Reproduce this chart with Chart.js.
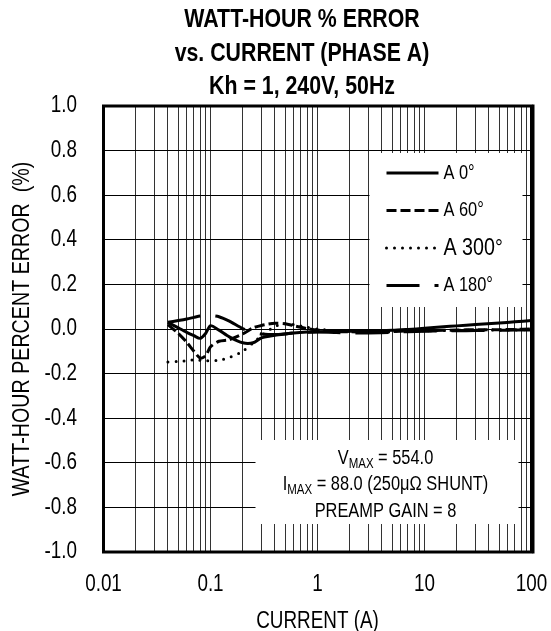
<!DOCTYPE html>
<html>
<head>
<meta charset="utf-8">
<script src="https://cdn.jsdelivr.net/npm/chart.js@4.4.1/dist/chart.umd.min.js"></script>
<style>
	html, body { margin: 0; padding: 0; background: #fff; }
</style>
</head>
<body>
<canvas id="chart" width="551" height="631"></canvas>
<script>
(function () {

	'use strict';

	// currents (A)
	var currents = [0.04, 0.05, 0.06, 0.07, 0.08, 0.09, 0.1, 0.12, 0.15, 0.2, 0.25, 0.3, 0.4, 0.5, 0.6, 0.8,
		1, 1.5, 2, 3, 5, 7, 10, 15, 20, 30, 50, 70, 100];

	// % error per phase angle
	var errA0   = [0.03, 0.005, -0.015, -0.03, -0.042, -0.02, 0.015, -0.005, -0.035, -0.062, -0.062, -0.04, -0.028, -0.022, -0.018, -0.014,
		-0.012, -0.01, -0.01, -0.008, -0.006, -0.002, 0.003, 0.01, 0.014, 0.02, 0.027, 0.032, 0.038];
	var errA60  = [0.02, -0.02, -0.06, -0.1, -0.13, -0.12, -0.08, -0.055, -0.048, -0.022, 0.005, 0.016, 0.026, 0.024, 0.015, 0.002,
		-0.005, -0.012, -0.012, -0.015, -0.012, -0.008, -0.008, -0.006, -0.005, -0.003, -0.003, -0.002, 0.0];
	var errA300 = [-0.148, -0.145, -0.142, -0.138, -0.14, -0.142, -0.142, -0.14, -0.128, -0.1, -0.062, -0.03, 0.012, 0.024, 0.02, 0.008,
		0.0, -0.008, -0.01, -0.012, -0.01, -0.008, -0.008, -0.007, -0.006, -0.005, -0.004, -0.004, -0.003];
	var errA180 = [0.03, 0.038, 0.045, 0.052, 0.058, 0.06, 0.06, 0.055, 0.035, 0.002, -0.015, -0.022, -0.025, -0.022, -0.018, -0.015,
		-0.014, -0.016, -0.018, -0.018, -0.015, -0.012, -0.01, -0.009, -0.008, -0.007, -0.006, -0.005, -0.005];

	var seriesLabels = ['A 0°', 'A 60°', 'A 300°', 'A 180°'];
	var xTickLabels = ['0.01', '0.1', '1', '10', '100'];
	var yTickValues = [-1.0, -0.8, -0.6, -0.4, -0.2, 0.0, 0.2, 0.4, 0.6, 0.8, 1.0];
	var titleLines = ['WATT-HOUR % ERROR', 'vs. CURRENT (PHASE A)', 'Kh = 1, 240V, 50Hz'];
	var xTitle = 'CURRENT (A)';
	var yTitle = 'WATT-HOUR PERCENT ERROR  (%)';
	var noteLines = [
		[['V', 0], ['MAX', 1], [' = 554.0', 0]],
		[['I', 0], ['MAX', 1], [' = 88.0 (250\u03bc\u03a9 SHUNT)', 0]],
		[['PREAMP GAIN = 8', 0]]
	];

	// Arial Narrow look: Liberation Sans squeezed sideways
	var FACE = "'Liberation Sans', Arial, sans-serif";
	var NARROW = 0.82;

	function text(ctx, str, x, y, size, o) {
		o = o || {};
		ctx.save();
		ctx.font = (o.bold ? 'bold ' : '') + size + 'px ' + FACE;
		ctx.fillStyle = '#000';
		ctx.textAlign = o.align || 'center';
		ctx.textBaseline = 'middle';
		ctx.translate(x, y);
		if (o.rotate) ctx.rotate(-Math.PI / 2);
		ctx.scale(NARROW, 1);
		ctx.fillText(str, 0, 0);
		ctx.restore();
	}

	function width(ctx, str, size) {
		ctx.save();
		ctx.font = size + 'px ' + FACE;
		var w = ctx.measureText(str).width * NARROW;
		ctx.restore();
		return w;
	}

	function pairs(ys) {
		return ys.map(function (y, i) { return { x: currents[i], y: y }; });
	}

	var canvas = document.getElementById('chart');

	var panels = {
		id: 'panels',
		beforeDatasetsDraw: function (chart) {
			var ctx = chart.ctx, a = chart.chartArea;
			ctx.save();
			ctx.fillStyle = '#fff';
			ctx.fillRect(a.left + 266, a.top + 47, 153, 154);   // legend panel
			ctx.fillRect(a.left + 152, a.top + 334, 263, 84);   // note panel
			ctx.restore();
		},
		afterDatasetsDraw: function (chart) {
			var ctx = chart.ctx, a = chart.chartArea;
			var xs = chart.scales.x, ys = chart.scales.y;
			ctx.save();

			// frame
			ctx.strokeStyle = '#000';
			ctx.lineWidth = 3;
			ctx.strokeRect(a.left, a.top, a.right - a.left, a.bottom - a.top);
			ctx.lineWidth = 2;
			ctx.beginPath();
			ctx.moveTo(a.right + 2, a.top - 1.5);
			ctx.lineTo(a.right + 2, a.bottom + 1.5);
			ctx.stroke();
			ctx.restore();

			// title
			titleLines.forEach(function (t, i) {
				text(ctx, t, 302, 20 + i * 33.5, 26, { bold: true });
			});

			// ticks
			xTickLabels.forEach(function (t) {
				text(ctx, t, xs.getPixelForValue(parseFloat(t)), a.bottom + 33, 23);
			});
			yTickValues.forEach(function (v) {
				var t = Math.abs(v) < 1e-9 ? '0.0' : v.toFixed(1);
				text(ctx, t, 77, ys.getPixelForValue(v), 23, { align: 'right' });
			});

			// axis titles
			text(ctx, xTitle, (a.left + a.right) / 2, a.bottom + 70, 23);
			text(ctx, yTitle, 22, (a.top + a.bottom) / 2, 24, { rotate: true });

			// legend
			var lx = a.left + 266, ly = a.top + 67;
			chart.data.datasets.forEach(function (ds, i) {
				var y = ly + i * 37.5;
				ctx.save();
				ctx.strokeStyle = '#000';
				ctx.lineWidth = ds.borderWidth;
				ctx.lineCap = ds.borderCapStyle || 'butt';
				ctx.setLineDash(ds.borderDash || []);
				ctx.beginPath();
				ctx.moveTo(lx + 17, y);
				ctx.lineTo(lx + 69, y);
				ctx.stroke();
				ctx.restore();
				text(ctx, ds.label, lx + 74, y, i === 2 ? 24 : 20, { align: 'left' });
			});

			// note
			var cx = a.left + 282, cy = a.top + 352;
			noteLines.forEach(function (parts, i) {
				var sizes = parts.map(function (p) { return p[1] ? 14 : 20; });
				var widths = parts.map(function (p, j) { return width(ctx, p[0], sizes[j]); });
				var total = widths.reduce(function (s, w) { return s + w; }, 0);
				var x = cx - total / 2;
				parts.forEach(function (p, j) {
					text(ctx, p[0], x, cy + i * 26.5 + (p[1] ? 6 : 0), sizes[j], { align: 'left' });
					x += widths[j];
				});
			});
		}
	};

	var chart = new Chart(canvas, {

		type: 'line',
		data: {
			datasets: [{
				label: seriesLabels[0],
				data: pairs(errA0),
				borderColor: '#000',
				borderWidth: 3,
				borderCapStyle: 'butt'
			}, {
				label: seriesLabels[1],
				data: pairs(errA60),
				borderColor: '#000',
				borderWidth: 3,
				borderDash: [10, 4],
				borderCapStyle: 'butt'
			}, {
				label: seriesLabels[2],
				data: pairs(errA300),
				borderColor: '#000',
				borderWidth: 3,
				borderDash: [0, 8],
				borderCapStyle: 'round'
			}, {
				label: seriesLabels[3],
				data: pairs(errA180),
				borderColor: '#000',
				borderWidth: 3,
				borderDash: [33, 15],
				borderCapStyle: 'butt'
			}]
		},
		options: {
			responsive: false,
			animation: false,
			layout: { padding: { left: 0, right: 19.5, top: 106, bottom: 0 } },
			elements: {
				point: { radius: 0 },
				line: { tension: 0.25, fill: false }
			},
			plugins: {
				legend: { display: false },
				tooltip: { enabled: false },
				title: { display: false }
			},
			scales: {
				x: {
					type: 'logarithmic',
					min: 0.01,
					max: 100,
					afterFit: function (scale) {
						scale.height = 79;
						scale.paddingLeft = 0;
						scale.paddingRight = 0;
					},
					afterBuildTicks: function (scale) {
						var t = [];
						for (var e = -2; e <= 2; e++) {
							for (var m = 1; m <= 9; m++) {
								var v = +(m * Math.pow(10, e)).toPrecision(3);
								if (v <= 100) t.push({ value: v });
							}
						}
						scale.ticks = t;
					},
					ticks: { display: false, autoSkip: false },
					grid: { color: '#333', lineWidth: 1, drawTicks: false },
					border: { display: false }
				},
				y: {
					min: yTickValues[0],
					max: yTickValues[yTickValues.length - 1],
					afterFit: function (scale) {
						scale.width = 103.5;
						scale.paddingTop = 0;
						scale.paddingBottom = 0;
					},
					afterBuildTicks: function (scale) {
						scale.ticks = yTickValues.map(function (v) { return { value: v }; });
					},
					ticks: { display: false },
					grid: { color: '#000', lineWidth: 1, drawTicks: false },
					border: { display: false }
				}
			}
		},
		plugins: [panels]
	});

})();
</script>
</body>
</html>
